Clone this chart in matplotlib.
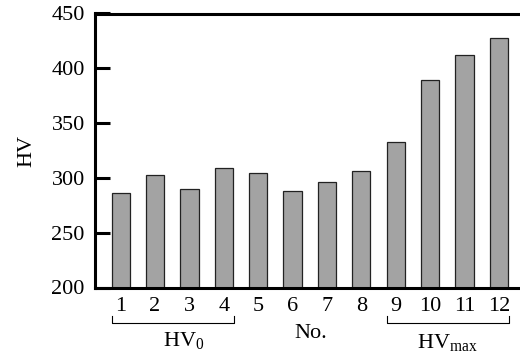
import matplotlib
matplotlib.use("Agg")
import matplotlib.pyplot as plt

plt.rcParams['font.family'] = ['Liberation Serif', 'DejaVu Serif']
plt.rcParams['mathtext.fontset'] = 'custom'
plt.rcParams['mathtext.rm'] = 'Liberation Serif'
plt.rcParams['mathtext.it'] = 'Liberation Serif:italic'

samples = [1, 2, 3, 4, 5, 6, 7, 8, 9, 10, 11, 12]
hv = [286, 303, 289.5, 309, 304.5, 288.5, 296.5, 306, 333, 389.5, 412.5, 428]
yticks = [200, 250, 300, 350, 400, 450]
group0 = [1, 4]
group_max = [9, 12]

fig = plt.figure(figsize=(5.2, 3.56), dpi=100)
ax = fig.add_axes([94.5/520, 1 - 287.5/356, 1 - 94.5/520 + 0.003, 274/356])

ax.bar(samples, hv, width=0.53, color='#a3a3a3', edgecolor='#222222', linewidth=0.9)
ax.set_xlim(0.24, 12.66)
ax.set_ylim(200, 450)
ax.set_yticks(yticks)
ax.set_xticks(samples)
ax.set_xticklabels([str(s) for s in samples])
ax.tick_params(axis='y', direction='in', length=10.5, width=2.2, labelsize=16, pad=7)
ax.tick_params(axis='x', length=0, labelsize=16, pad=6.5)
for side in ['left', 'bottom', 'top']:
    ax.spines[side].set_linewidth(2.2)
ax.spines['right'].set_visible(False)
ax.set_ylabel('HV', fontsize=16, labelpad=11)

tr = ax.get_xaxis_transform()
for (a, b) in [group0, group_max]:
    x0 = a - 0.265
    x1 = b + 0.3
    ax.plot([x0, x0, x1, x1], [-0.104, -0.128, -0.128, -0.104], transform=tr,
            color='black', linewidth=0.8, clip_on=False)

ax.text(2.84, -0.2117, r'HV$_\mathrm{0}$', transform=tr,
        ha='center', va='baseline', fontsize=16)
ax.text(6.53, -0.186, 'No.', transform=tr, ha='center', va='baseline', fontsize=16)
ax.text(10.5, -0.2226, r'HV$_\mathrm{max}$', transform=tr,
        ha='center', va='baseline', fontsize=16)

fig.savefig('out.png', dpi=100)
